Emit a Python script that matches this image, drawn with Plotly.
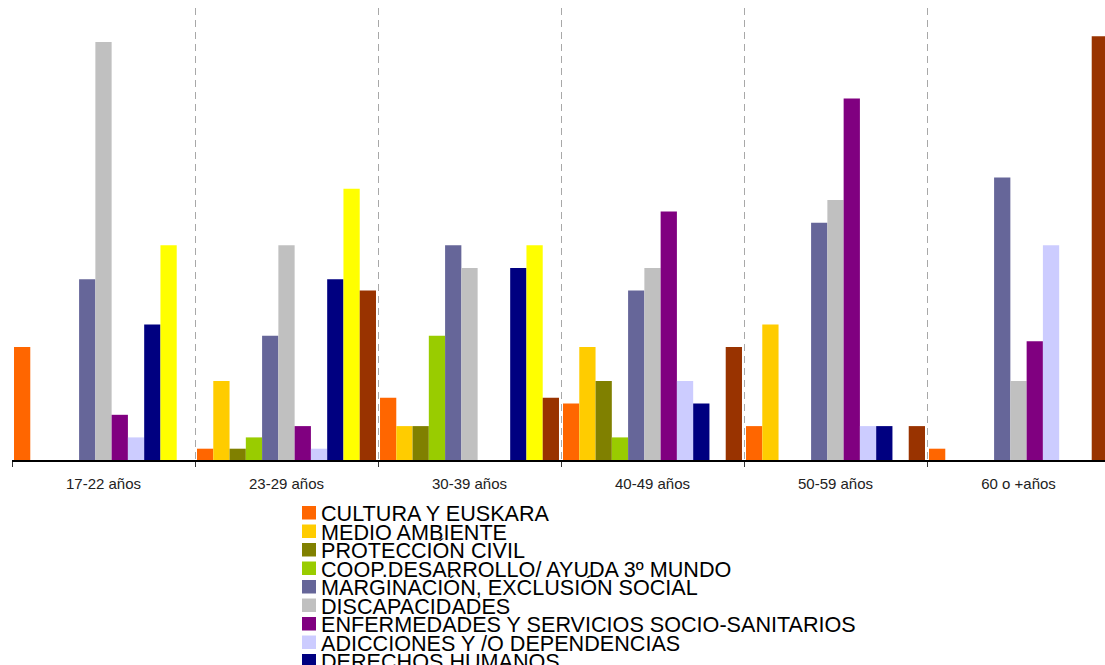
import plotly.graph_objects as go

age_groups = ["17-22 años", "23-29 años", "30-39 años", "40-49 años", "50-59 años", "60 o +años"]

cultura = [10, 1, 5.5, 5, 3, 1]
medio_ambiente = [0, 7, 3, 10, 12, 0]
proteccion_civil = [0, 1, 3, 7, 0, 0]
coop_desarrollo = [0, 2, 11, 2, 0, 0]
marginacion = [16, 11, 19, 15, 21, 25]
discapacidades = [37, 19, 17, 17, 23, 7]
enfermedades = [4, 3, 0, 22, 32, 10.5]
adicciones = [2, 1, 0, 7, 3, 19]
derechos_humanos = [12, 16, 17, 5, 3, 0]
infancia_juventud = [19, 24, 19, 0, 0, 0]
otros = [0, 15, 5.5, 10, 3, 37.5]

series_names = [
    "CULTURA Y EUSKARA",
    "MEDIO AMBIENTE",
    "PROTECCIÓN CIVIL",
    "COOP.DESARROLLO/ AYUDA 3º MUNDO",
    "MARGINACIÓN, EXCLUSIÓN SOCIAL",
    "DISCAPACIDADES",
    "ENFERMEDADES Y SERVICIOS SOCIO-SANITARIOS",
    "ADICCIONES Y /O DEPENDENCIAS",
    "DERECHOS HUMANOS",
    "INFANCIA Y JUVENTUD",
    "OTROS",
]
series_values = [
    cultura, medio_ambiente, proteccion_civil, coop_desarrollo, marginacion,
    discapacidades, enfermedades, adicciones, derechos_humanos,
    infancia_juventud, otros,
]
colors = [
    "#FF6600", "#FFCC00", "#808000", "#99CC00", "#666699", "#C0C0C0",
    "#800080", "#CCCCFF", "#000080", "#FFFF00", "#993300",
]

FONT = "Arial, 'Liberation Sans', sans-serif"
W, H = 1105, 665
ML, MR, MT, MB = 12, 0, 8, 205
plot_w = W - ML - MR
plot_h = H - MT - MB
GROUP_PX = 183.0

fig = go.Figure()
for name, vals, col in zip(series_names, series_values, colors):
    fig.add_trace(go.Bar(
        x=age_groups, y=vals, name=name,
        marker=dict(color=col, line=dict(width=0)),
        showlegend=False,
    ))

# custom compact legend; positions given in page pixels
def px_to_paper_x(px):
    return (px - ML) / plot_w
def px_to_paper_y(py):
    return (H - MB - py) / plot_h

shapes = []
annotations = []
for i, (name, col) in enumerate(zip(series_names, colors)):
    top = 506 + 18.5 * i
    shapes.append(dict(
        type="rect", xref="paper", yref="paper",
        x0=px_to_paper_x(302), x1=px_to_paper_x(316),
        y0=px_to_paper_y(top), y1=px_to_paper_y(top + 13.5),
        fillcolor=col, line=dict(width=0), layer="above",
    ))
    annotations.append(dict(
        text=name, xref="paper", yref="paper",
        x=px_to_paper_x(320), y=px_to_paper_y(top + 7.5),
        xanchor="left", yanchor="middle", showarrow=False,
        borderpad=0,
        font=dict(family=FONT, size=21.6, color="#000000"),
    ))

fig.update_layout(
    width=W, height=H,
    margin=dict(l=ML, r=MR, t=MT, b=MB, autoexpand=False),
    paper_bgcolor="white", plot_bgcolor="white",
    barmode="group", bargap=0.022, bargroupgap=0,
    showlegend=False,
    font=dict(family=FONT, color="#222222"),
    shapes=shapes, annotations=annotations,
)
fig.update_xaxes(
    range=[-0.5, -0.5 + plot_w / GROUP_PX],
    tickson="boundaries", ticks="outside", ticklen=5, tickcolor="#333333",
    ticklabelstandoff=9,
    showgrid=True, gridcolor="#A8A8A8", griddash="7px,5px", gridwidth=1,
    showline=True, linecolor="#000000", linewidth=1.5,
    tickfont=dict(family=FONT, size=15, color="#222222"),
    fixedrange=True,
)
fig.update_yaxes(
    range=[0, 40], visible=False, showgrid=False, zeroline=False,
    fixedrange=True,
)

fig.write_html(
    "out.html",
    config={"displayModeBar": False},
    post_script="document.body.style.margin='0';document.body.style.overflow='hidden';"
                "document.documentElement.style.overflow='hidden';",
)
